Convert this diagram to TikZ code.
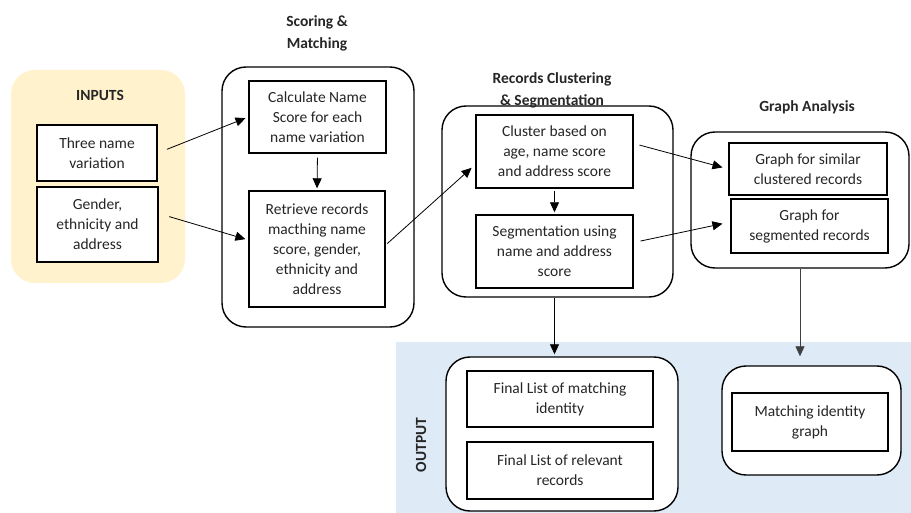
\documentclass[tikz,border=0pt]{standalone}
\usepackage{fontspec}
\setmainfont{Carlito}
\usetikzlibrary{arrows.meta}
\definecolor{inyellow}{RGB}{255,242,204}
\definecolor{outblue}{RGB}{222,235,247}

\begin{document}
\begin{tikzpicture}[x=1pt,y=-1pt]
        \tikzstyle{every node}=[font=\fontsize{15.5}{20}\selectfont,text=black!85]
        \tikzstyle{box}=[draw=black,line width=1.4pt,fill=white,align=center,inner sep=0pt]
        \tikzstyle{panel}=[draw=black,line width=1.4pt,rounded corners=24pt,fill=white]
        \tikzstyle{ttl}=[font=\fontsize{15.5}{22}\selectfont\bfseries,align=center]
        \tikzstyle{arr}=[-{Triangle[length=10pt,width=9pt]},line width=0.8pt]
        \useasboundingbox (0,0) rectangle (911,513);

        % background areas
        \fill[inyellow,rounded corners=24pt] (11,70) rectangle (185,283);
        \fill[outblue] (396,342) rectangle (911,513);

        % stage panels
        \node[panel,minimum width=192,minimum height=260] (pscore) at (318,197) {};
        \node[panel,minimum width=231,minimum height=191] (pclus) at (557.5,201.5) {};
        \node[panel,minimum width=218,minimum height=136] (pgraph) at (800,200) {};
        \node[panel,minimum width=232,minimum height=154] (pout1) at (562,434) {};
        \node[panel,minimum width=179,minimum height=109] (pout2) at (811.5,420.5) {};

        % titles
        \node[ttl] (tin) at (100,95) {INPUTS};
        \node[ttl] (tscore) at (317,33) {Scoring \&\\Matching};
        \node[ttl] (tclus) at (552,90) {Records Clustering\\\& Segmentation};
        \node[ttl] (tgraph) at (807,107) {Graph Analysis};
        \node[ttl,rotate=90] (tout) at (421,445) {OUTPUT};

        % boxes
        \node[box,minimum width=120,minimum height=56] (in1) at (97,153) {Three name\\variation};
        \node[box,minimum width=121,minimum height=75] (in2) at (97.5,224.5) {Gender,\\ethnicity and\\address};
        \node[box,minimum width=137,minimum height=72] (calc) at (317.5,117) {Calculate Name\\Score for each\\name variation};
        \node[box,minimum width=136,minimum height=116] (retr) at (317,249) {Retrieve records\\macthing name\\score, gender,\\ethnicity and\\address};
        \node[box,minimum width=157,minimum height=73] (clus) at (554.5,151.5) {Cluster based on\\age, name score\\and address score};
        \node[box,minimum width=157,minimum height=73] (segm) at (554.5,251.5) {Segmentation using\\name and address\\score};
        \node[box,minimum width=158,minimum height=52] (gr1) at (808,169) {Graph for similar\\clustered records};
        \node[box,minimum width=157,minimum height=54] (gr2) at (809.5,226) {Graph for\\segmented records};
        \node[box,minimum width=186,minimum height=56] (fin1) at (560,399) {Final List of matching\\identity};
        \node[box,minimum width=186,minimum height=57] (fin2) at (560,470.5) {Final List of relevant\\records};
        \node[box,minimum width=156,minimum height=58] (mgr) at (810,422) {Matching identity\\graph};

        % arrows
        \draw[arr,shorten <=10pt,shorten >=3pt] (in1.east) -- (calc.west);
        \draw[arr,shorten <=11pt,shorten >=3pt] ([yshift=11pt]in2.east) -- ([yshift=9pt]retr.west);
        \draw[arr,shorten <=4pt,shorten >=2pt] (calc.south) -- (retr.north);
        \draw[arr,shorten <=2pt,shorten >=5pt] ([yshift=4pt]retr.east) -- ([yshift=-13pt]clus.west);
        \draw[arr,shorten <=2pt,shorten >=2pt] (clus.south) -- (segm.north);
        \draw[arr,shorten <=6pt,shorten >=6pt] ([yshift=8pt]clus.east) -- (gr1.west);
        \draw[arr,shorten <=7pt,shorten >=8pt] ([yshift=9pt]segm.east) -- ([yshift=4pt]gr2.west);
        \draw[arr,shorten >=2pt] (pclus.south -| clus.south) -- (pout1.north -| clus.south);
        \draw[arr,black!75,shorten >=9pt] (pgraph.south) -- (pout2.north -| pgraph.south);
\end{tikzpicture}
\end{document}
